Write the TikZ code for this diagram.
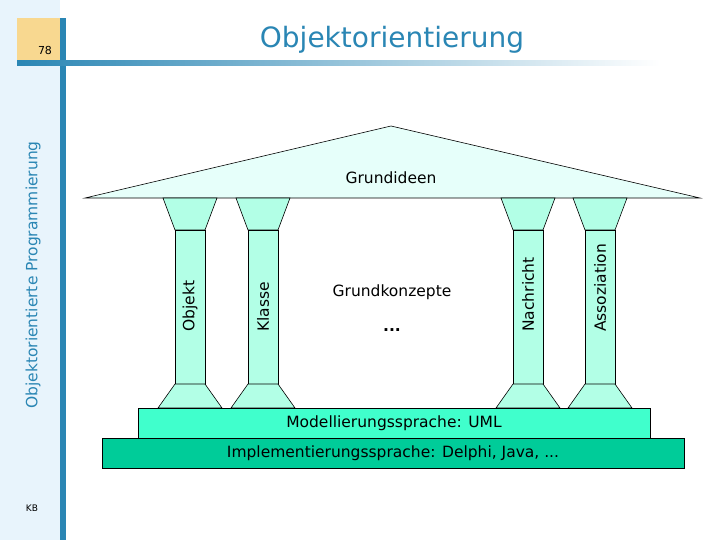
\documentclass[tikz,border=0pt]{standalone}
\usepackage{fontspec}
\setmainfont{DejaVu Sans}
\definecolor{sidebg}{HTML}{E8F4FC}
\definecolor{titleblue}{HTML}{2A86B4}
\definecolor{capfill}{HTML}{B2FFE6}
\definecolor{roof}{HTML}{E6FFFA}
\definecolor{uml}{HTML}{40FFCC}
\definecolor{impl}{HTML}{00CC99}
\definecolor{pageorange}{HTML}{F8D890}
\tikzset{
  part/.style={draw=black, fill=capfill, line width=0.6pt},
  label/.style={font=\fontsize{15.5}{18}\selectfont, inner sep=0pt},
}
\def\capTop{198}
\def\shaftTop{230}
\def\shaftBot{384}
\def\baseBot{408}

\begin{document}
\begin{tikzpicture}[x=1pt, y=-1pt]
      \useasboundingbox (0,0) rectangle (720,540);
      % frame of the slide
      \fill[sidebg] (0,0) rectangle (60,540);
      \fill[pageorange] (17,18) rectangle (60,61);
      \fill[titleblue] (60,18) rectangle (66,540);
      \shade[left color=titleblue, right color=white] (17,61) rectangle (660,66);
      \node (page) at (45,50) {\fontsize{11}{13}\selectfont 78};
      \node[rotate=90, text=titleblue] (sidetitle) at (33,275)
        {\fontsize{15.5}{18}\selectfont Objektorientierte Programmierung};
      \node (kb) at (32,508) {\fontsize{9}{11}\selectfont KB};
      \node[text=titleblue] (title) at (392,40)
        {\fontsize{28}{32}\selectfont Objektorientierung};

      % roof
      \draw[fill=roof, line width=0.6pt]
        (85,\capTop) -- (391,126) -- (700,\capTop) -- cycle;
      \node[label] (ideen) at (391,178) {Grundideen};

      % columns
      \foreach \cx/\txt in {190/Objekt, 263/Klasse, 528/Nachricht, 600/Assoziation} {
        \draw[part] (\cx-27,\capTop) -- (\cx+27,\capTop)
          -- (\cx+15,\shaftTop) -- (\cx-15,\shaftTop) -- cycle;
        \draw[part] (\cx-15,\shaftTop) rectangle (\cx+15,\shaftBot);
        \draw[part] (\cx-15,\shaftBot) -- (\cx+15,\shaftBot)
          -- (\cx+32,\baseBot) -- (\cx-32,\baseBot) -- cycle;
        \node[label, rotate=90, anchor=west] (\txt) at (\cx,332) {\txt};
      }

      \node[label] (konzepte) at (392,292) {Grundkonzepte};
      \node[label] (dots) at (392,330) {\textbf{...}};

      % foundations
      \draw[fill=uml, line width=0.6pt] (138,\baseBot) rectangle (650,438);
      \node[label] (uml) at (394,423) {Modellierungssprache: UML};
      \draw[fill=impl, line width=0.6pt] (102,438) rectangle (684,468);
      \node[label] (impl) at (393,453) {Implementierungssprache: Delphi, Java, ...};
\end{tikzpicture}
\end{document}
